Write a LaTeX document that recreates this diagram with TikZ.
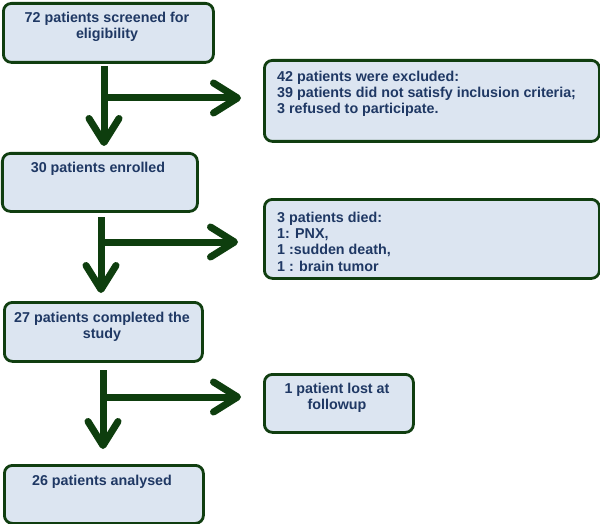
\documentclass[tikz,border=0pt]{standalone}
\usepackage{fontspec}
\setmainfont{Liberation Sans}
\usetikzlibrary{arrows.meta,calc}
\definecolor{boxfill}{RGB}{220,229,241}
\definecolor{boxline}{RGB}{16,62,16}
\definecolor{arrcol}{RGB}{14,62,14}
\definecolor{txtcol}{RGB}{31,56,100}
\tikzset{
  box/.style={draw=boxline, line width=2.8pt, fill=boxfill, rounded corners=8pt, inner sep=0pt, anchor=north west},
  txt/.style={inner sep=0pt, text=txtcol, font=\fontsize{14.3}{16.4}\selectfont\bfseries, align=center},
  ltxt/.style={txt, align=left, anchor=north west},
  arr/.style={draw=arrcol, line width=7pt, -{Straight Barb[length=24pt, width=30pt, round]}},
}
\begin{document}
\begin{tikzpicture}[x=1pt,y=-1pt]
\useasboundingbox (0,0) rectangle (600,524);
% left column boxes
\node[box, minimum width=210pt, minimum height=59pt] (b1) at (2,2) {};
\node[txt, anchor=north] (t1) at (107,11.5) {72 patients screened for\\eligibility};
\node[box, minimum width=195pt, minimum height=58pt] (b3) at (1,152) {};
\node[txt, anchor=north] (t3) at (98,161.5) {30 patients enrolled};
\node[box, minimum width=198pt, minimum height=59pt] (b5) at (3,301) {};
\node[txt, anchor=north] (t5) at (102,311.5) {27 patients completed the\\study};
\node[box, minimum width=199pt, minimum height=58pt] (b7) at (3,464) {};
\node[txt, anchor=north] (t7) at (102,474.5) {26 patients analysed};
% right column boxes
\node[box, minimum width=335pt, minimum height=81pt] (b2) at (263,59) {};
\node[ltxt] (t2) at (277,70.5) {42 patients were excluded:\\39 patients did not satisfy inclusion criteria;\\3 refused to participate.};
\node[box, minimum width=335pt, minimum height=79pt] (b4) at (263,198) {};
\node[ltxt] (t4) at (277,211.5) {3 patients died:\\1: PNX,\\1 :sudden death,\\1 : brain tumor};
\node[box, minimum width=149pt, minimum height=58pt] (b6) at (263,373) {};
\node[txt, anchor=north] (t6) at (337,382.5) {1 patient lost at\\followup};
% arrows
\coordinate (v1s) at (104,66);  \coordinate (v1e) at (104,146);
\coordinate (h1s) at (104,98);  \coordinate (h1e) at (241,98);
\coordinate (v2s) at (101,217); \coordinate (v2e) at (101,293);
\coordinate (h2s) at (101,242); \coordinate (h2e) at (238,242);
\coordinate (v3s) at (103,370); \coordinate (v3e) at (103,449);
\coordinate (h3s) at (103,397); \coordinate (h3e) at (241,397);
\draw[arr] (v1s) -- (v1e);
\draw[arr] (h1s) -- (h1e);
\draw[arr] (v2s) -- (v2e);
\draw[arr] (h2s) -- (h2e);
\draw[arr] (v3s) -- (v3e);
\draw[arr] (h3s) -- (h3e);
\end{tikzpicture}
\end{document}
